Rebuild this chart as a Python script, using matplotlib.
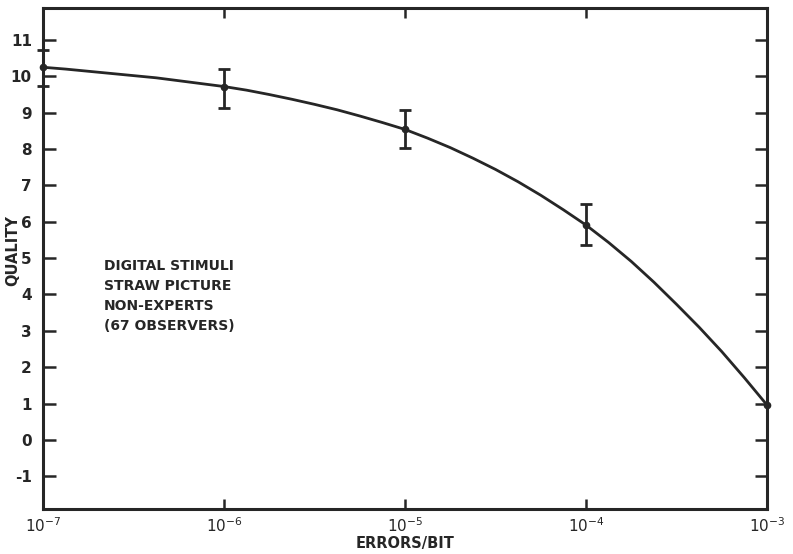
import numpy as np
import matplotlib
matplotlib.use("Agg")
import matplotlib.pyplot as plt

# measured points (errors per bit vs quality), with error bar extents
err_rate = [1e-7, 1e-6, 1e-5, 1e-4]
quality = [10.25, 9.72, 8.54, 5.91]
err_lo = [0.52, 0.58, 0.52, 0.55]
err_hi = [0.48, 0.47, 0.54, 0.57]
# last point has no error bar
end_rate = [1e-3]
end_quality = [0.96]

curve_exp = [-7.0, -6.875, -6.75, -6.625, -6.5, -6.375, -6.25, -6.125,
             -6.0, -5.875, -5.75, -5.625, -5.5, -5.375, -5.25, -5.125,
             -5.0, -4.875, -4.75, -4.625, -4.5, -4.375, -4.25, -4.125,
             -4.0, -3.875, -3.75, -3.625, -3.5, -3.375, -3.25, -3.125, -3.0]
curve_y = [10.25, 10.20, 10.14, 10.08, 10.02, 9.96, 9.88, 9.80,
           9.72, 9.62, 9.50, 9.37, 9.23, 9.08, 8.91, 8.73,
           8.54, 8.30, 8.04, 7.75, 7.44, 7.10, 6.73, 6.33,
           5.91, 5.43, 4.91, 4.34, 3.73, 3.10, 2.43, 1.71, 0.96]

x_ticks = [1e-7, 1e-6, 1e-5, 1e-4, 1e-3]
x_labels = ["$10^{-7}$", "$10^{-6}$", "$10^{-5}$", "$10^{-4}$", "$10^{-3}$"]
y_ticks = list(range(-1, 12))

note = ["DIGITAL STIMULI", "STRAW PICTURE", "NON-EXPERTS", "(67 OBSERVERS)"]

ink = "#262626"

fig = plt.figure(figsize=(7.93, 5.54), dpi=100, facecolor="white")
ax = fig.add_axes([43/793, 1 - 509/554, (767-43)/793, (509-8)/554])

curve_x = [10**e for e in curve_exp]
ax.plot(curve_x, curve_y, color=ink, lw=2.0, solid_capstyle="round",
        solid_joinstyle="round", clip_on=False, zorder=3)
ax.errorbar(err_rate, quality, yerr=[err_lo, err_hi], fmt="o", ms=4.5,
            color=ink, ecolor=ink, elinewidth=2.0, capsize=4.5, capthick=2.0,
            clip_on=False, zorder=4)
ax.plot(end_rate, end_quality, "o", ms=4.5, color=ink, clip_on=False, zorder=4)

ax.set_xscale("log")
ax.set_xlim(1e-7, 1e-3)
ax.set_ylim(-1.9, 11.88)
ax.minorticks_off()

ax.set_xticks(x_ticks)
ax.set_xticklabels(x_labels)
ax.set_yticks(y_ticks)
ax.set_yticklabels([str(v) for v in y_ticks])

ax.tick_params(axis="both", direction="in", top=True, right=True, colors=ink,
               width=1.8, labelsize=11, labelcolor=ink)
ax.tick_params(axis="y", length=9, pad=8)
ax.tick_params(axis="x", length=7, pad=5)
for lbl in ax.get_xticklabels() + ax.get_yticklabels():
    lbl.set_fontweight("bold")

for s in ax.spines.values():
    s.set_color(ink)
    s.set_linewidth(2.2)

ax.set_xlabel("ERRORS/BIT", fontsize=10.5, fontweight="bold", color=ink,
              labelpad=1)
fig.text(13/793, 1 - 251/554, "QUALITY", rotation=90, ha="center",
         va="center", fontsize=10.5, fontweight="bold", color=ink)

for i, line in enumerate(note):
    fig.text(104/793, 1 - (266 + 20*i)/554, line, ha="left", va="center",
             fontsize=10, fontweight="bold", color=ink)

fig.savefig("out.png", dpi=100, facecolor="white")
